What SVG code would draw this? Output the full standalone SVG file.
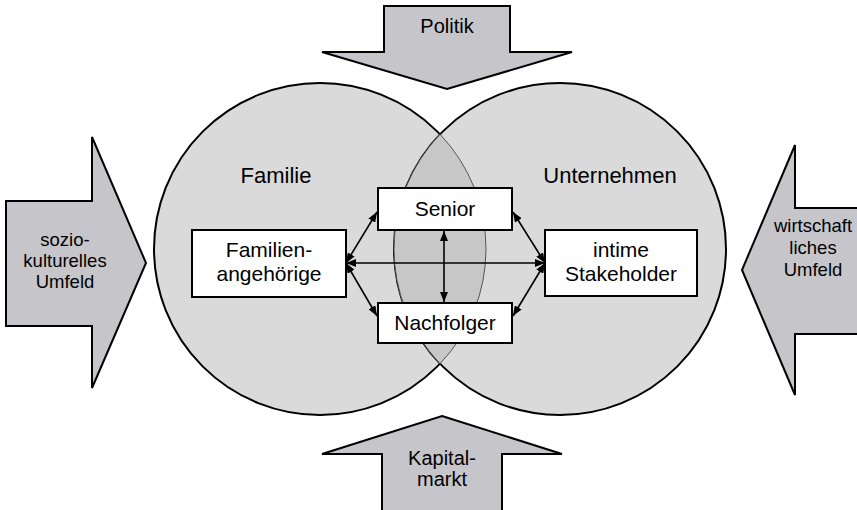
<svg xmlns="http://www.w3.org/2000/svg" width="857" height="510" viewBox="0 0 857 510">
<defs>
<style>
.bg{fill:#ffffff}
.circle{fill:#dadada;stroke:#000;stroke-width:2}
.lens{fill:#c7c7c7;stroke:#555;stroke-width:1}
.arrow{fill:#c6c6ca;stroke:#000;stroke-width:2;stroke-linejoin:miter}
.box{fill:#fff;stroke:#000;stroke-width:2}
.t{font-family:"Liberation Sans",Arial,sans-serif;fill:#000;text-anchor:middle}
.big{font-size:22px}
.mid{font-size:21px}
.md2{font-size:20px}
.sm{font-size:18.5px}
.con{stroke:#000;stroke-width:1.6;fill:none;marker-start:url(#ah);marker-end:url(#ah)}
</style>
<marker id="ah" viewBox="0 0 10 8" refX="10" refY="4" markerWidth="10" markerHeight="8" markerUnits="userSpaceOnUse" orient="auto-start-reverse">
<path d="M0,0 L10,4 L0,8 z" fill="#000"/>
</marker>
</defs>
<rect class="bg" x="0" y="0" width="857" height="510"/>

<g id="politik">
<polygon class="arrow" points="384,6 510,6 510,52 572,52 447,89 322,52 384,52"/>
<text class="t md2" x="447" y="33">Politik</text>
</g>

<g id="kapitalmarkt">
<polygon class="arrow" points="442,416 562,454 502,454 502,512 382,512 382,454 322,454"/>
<text class="t md2" x="442" y="465">Kapital-</text>
<text class="t md2" x="442" y="486">markt</text>
</g>

<g id="soziokulturelles-umfeld">
<polygon class="arrow" points="6,201 92,201 92,137 146,263 92,388 92,326 6,326"/>
<text class="t sm" x="65" y="246">sozio-</text>
<text class="t sm" x="65" y="267">kulturelles</text>
<text class="t sm" x="65" y="288">Umfeld</text>
</g>

<g id="wirtschaftliches-umfeld">
<polygon class="arrow" points="860,208 795,208 795,145 742,270 795,395 795,334 860,334"/>
<text class="t sm" x="813" y="232">wirtschaft</text>
<text class="t sm" x="813" y="254">liches</text>
<text class="t sm" x="813" y="276">Umfeld</text>
</g>

<g id="familie">
<circle class="circle" cx="320" cy="249" r="166"/>
</g>
<g id="unternehmen">
<circle class="circle" cx="560" cy="249" r="166"/>
</g>
<g id="overlap">
<path class="lens" d="M440,134.3 A166,166 0 0,1 440,363.7 A166,166 0 0,1 440,134.3 Z"/>
</g>
<text class="t big" x="276" y="183">Familie</text>
<text class="t big" x="610" y="183">Unternehmen</text>

<g id="connectors">
<line class="con" x1="346" y1="263" x2="377" y2="212"/>
<line class="con" x1="346" y1="263" x2="377" y2="316"/>
<line class="con" x1="346" y1="263" x2="545" y2="263"/>
<line class="con" x1="545" y1="263" x2="513" y2="212"/>
<line class="con" x1="545" y1="263" x2="513" y2="316"/>
<line class="con" x1="444" y1="231" x2="444" y2="302"/>
</g>

<g id="senior">
<rect class="box" x="378" y="188" width="134" height="42"/>
<text class="t mid" x="445" y="216">Senior</text>
</g>
<g id="nachfolger">
<rect class="box" x="378" y="303" width="134" height="40"/>
<text class="t mid" x="445" y="330">Nachfolger</text>
</g>
<g id="familienangehoerige">
<rect class="box" x="192" y="230" width="154" height="67"/>
<text class="t mid" x="269" y="257">Familien-</text>
<text class="t mid" x="269" y="281">angehörige</text>
</g>
<g id="intime-stakeholder">
<rect class="box" x="545" y="230" width="152" height="66"/>
<text class="t mid" x="621" y="257">intime</text>
<text class="t mid" x="621" y="281">Stakeholder</text>
</g>
</svg>
